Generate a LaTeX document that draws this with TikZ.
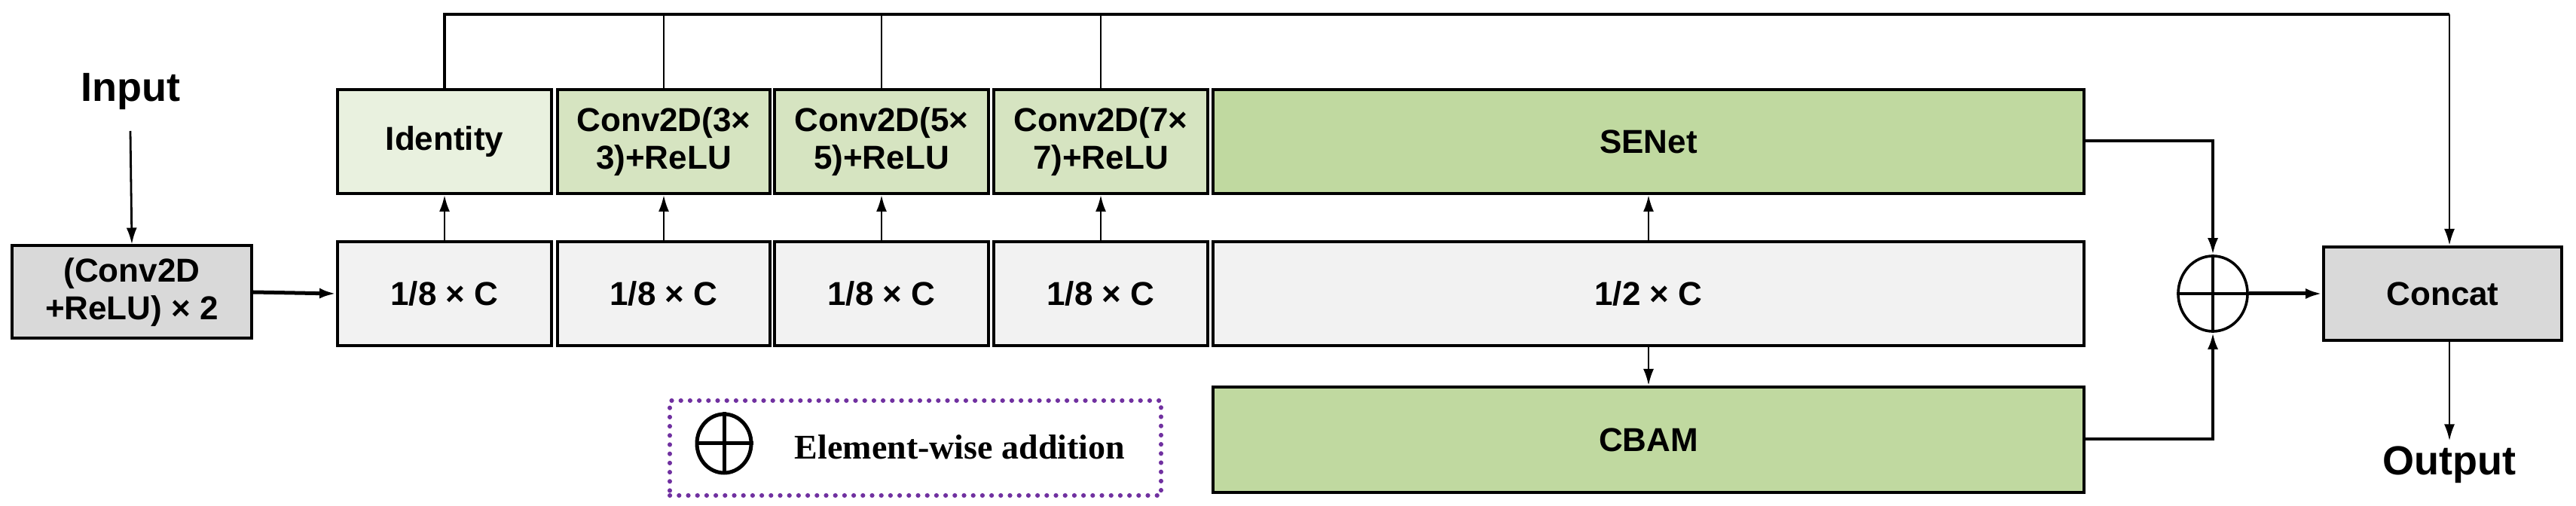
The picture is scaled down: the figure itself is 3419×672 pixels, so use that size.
\documentclass[tikz,border=0pt]{standalone}
\usepackage{fontspec}
\setmainfont{Liberation Sans}
\newfontfamily\tnr{Liberation Serif}
\usetikzlibrary{arrows.meta,shapes.geometric}
\definecolor{cId}{HTML}{E9F1DF}
\definecolor{cCv}{HTML}{D6E4C1}
\definecolor{cSe}{HTML}{C0D9A0}
\definecolor{cLo}{HTML}{F2F2F2}
\definecolor{cGr}{HTML}{D9D9D9}
\definecolor{cPu}{HTML}{7030A0}
\begin{document}
\begin{tikzpicture}[x=0.5pt,y=-0.5pt,
  box/.style={draw=black,line width=2pt,inner sep=0pt,align=center,font=\fontsize{22}{25}\selectfont\bfseries,minimum height=69pt},
  conn/.style={line width=1.4pt},
  arr/.style={conn,-{Latex[length=11pt,width=7pt]}}]
\useasboundingbox (0,0) rectangle (3419,672);
\node[box,fill=cId,minimum width=142pt] (id) at (590,188) {Identity};
\node[box,fill=cCv,minimum width=141pt] (c3) at (881,188) {Conv2D(3×\\3)+ReLU};
\node[box,fill=cCv,minimum width=142pt] (c5) at (1170,188) {Conv2D(5×\\5)+ReLU};
\node[box,fill=cCv,minimum width=142pt] (c7) at (1461,188) {Conv2D(7×\\7)+ReLU};
\node[box,fill=cSe,minimum width=578pt] (se) at (2188,188) {SENet};
\node[box,fill=cLo,minimum width=142pt] (l1) at (590,390) {1/8 × C};
\node[box,fill=cLo,minimum width=141pt] (l2) at (881,390) {1/8 × C};
\node[box,fill=cLo,minimum width=142pt] (l3) at (1170,390) {1/8 × C};
\node[box,fill=cLo,minimum width=142pt] (l4) at (1461,390) {1/8 × C};
\node[box,fill=cLo,minimum width=578pt] (l5) at (2188,390) {1/2 × C};
\node[box,fill=cSe,minimum width=578pt,minimum height=70pt] (cb) at (2188,584) {CBAM};
\node[box,fill=cGr,minimum width=159pt,minimum height=61.5pt] (in) at (175,388) {(Conv2D\\+ReLU) × 2};
\node[box,fill=cGr,minimum width=158pt,minimum height=62pt] (cc) at (3242,390) {Concat};
\node[draw,line width=1.8pt,ellipse,minimum width=46pt,minimum height=50pt,inner sep=0pt] (op) at (2937,390) {};
\draw[line width=1.8pt] (op.north)--(op.south) (op.west)--(op.east);
\node[font=\fontsize{27}{30}\selectfont\bfseries] (inp) at (173,122) {Input};
\node[font=\fontsize{27}{30}\selectfont\bfseries] (out) at (3251,617) {Output};
% legend
\node[draw=cPu,line width=3pt,dash pattern=on 0.1pt off 6pt,line cap=round,minimum width=326pt,minimum height=63pt] (lg) at (1215,595) {};
\node[draw,line width=2.5pt,ellipse,minimum width=36pt,minimum height=39pt,inner sep=0pt] (lo) at (961,589) {};
\draw[line width=2.5pt] (lo.north)--(lo.south) (lo.west)--(lo.east);
\node[font=\fontsize{23}{26}\selectfont\tnr\bfseries] (lt) at (1274,594) {Element-wise addition};
% arrows
\draw[arr] (inp.south |- 0,174) -- (in.north);
\draw[arr,line width=2.5pt] (in.east) -- (l1.west);
\foreach \a/\b in {l1/id,l2/c3,l3/c5,l4/c7,l5/se}{\draw[arr] (\a.north) -- (\b.south);}
\draw[arr] (l5.south) -- (cb.north);
\coordinate (tl) at (3251,19);
\draw[conn,line width=2pt] (id.north) -- (id.north |- tl) -- (tl);
\foreach \b in {c3,c5,c7}{\draw[conn] (\b.north) -- (\b.north |- tl);}
\draw[arr] (tl) -- (cc.north -| tl);
\draw[arr,line width=2pt] (se.east |- 0,187) -| (op.north);
\draw[arr,line width=2pt] (cb.east |- 0,583) -| (op.south);
\draw[arr,line width=2.5pt] (op.east) -- (cc.west);
\draw[arr] (cc.south -| out) -- (out.north);
\end{tikzpicture}
\end{document}
